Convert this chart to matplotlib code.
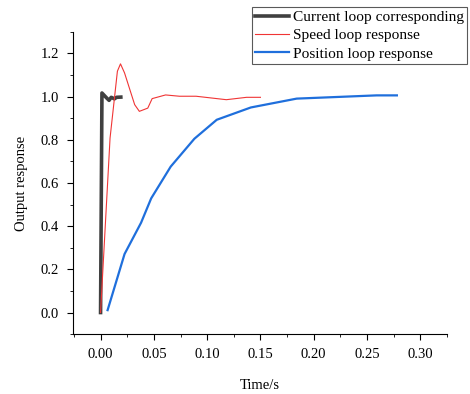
import matplotlib.pyplot as plt
from matplotlib.ticker import MultipleLocator

plt.rcParams['font.family'] = ['Liberation Serif', 'DejaVu Serif']

# current loop
cur_t = [0.0, 0.0013, 0.0057, 0.008, 0.010, 0.013, 0.015, 0.019]
cur_y = [0.0, 1.017, 0.994, 0.983, 0.997, 0.990, 0.997, 0.998]

# speed loop
spd_t = [0.0, 0.0089, 0.0158, 0.0187, 0.0225, 0.0285, 0.032, 0.0364, 0.0443,
         0.0484, 0.061, 0.074, 0.0896, 0.118, 0.137, 0.150]
spd_y = [0.0, 0.808, 1.118, 1.152, 1.11, 1.017, 0.963, 0.932, 0.947,
         0.991, 1.008, 1.002, 1.002, 0.986, 0.997, 0.997]

# position loop
pos_t = [0.0066, 0.0225, 0.038, 0.0475, 0.0658, 0.088, 0.109, 0.141, 0.184, 0.259, 0.278]
pos_y = [0.011, 0.271, 0.416, 0.529, 0.676, 0.805, 0.893, 0.950, 0.991, 1.006, 1.006]

fig = plt.figure(figsize=(4.7, 3.94), dpi=100)
ax = fig.add_axes([0.155, 0.152, 0.796, 0.767])

ax.plot(cur_t, cur_y, color='#404040', lw=2.6, label='Current loop corresponding')
ax.plot(spd_t, spd_y, color='#f03535', lw=0.8, label='Speed loop response')
ax.plot(pos_t, pos_y, color='#1f6fdc', lw=1.6, label='Position loop response')

ax.set_xlim(-0.026, 0.325)
ax.set_ylim(-0.10, 1.30)
ax.xaxis.set_minor_locator(MultipleLocator(0.025))
ax.yaxis.set_minor_locator(MultipleLocator(0.1))
ax.set_xticks([0, 0.05, 0.1, 0.15, 0.2, 0.25, 0.3])
ax.set_xticklabels(['0.00', '0.05', '0.10', '0.15', '0.20', '0.25', '0.30'])
ax.set_yticks([0, 0.2, 0.4, 0.6, 0.8, 1.0, 1.2])
ax.set_yticklabels(['0.0', '0.2', '0.4', '0.6', '0.8', '1.0', '1.2'])
ax.tick_params(which='major', direction='out', length=4, labelsize=10.5, pad=6)
ax.tick_params(which='minor', direction='out', length=2.5)

for s in ['top', 'right']:
    ax.spines[s].set_visible(False)

ax.set_xlabel('Time/s', fontsize=10.5, labelpad=13)
ax.set_ylabel('Output response', fontsize=10.5, labelpad=9)

leg = ax.legend(loc='upper right', bbox_to_anchor=(0.994, 0.982), bbox_transform=fig.transFigure,
                fontsize=11.1, frameon=True, fancybox=False, edgecolor='#303030',
                handlelength=2.2, handletextpad=0.25, borderpad=0.2, labelspacing=0.3,
                borderaxespad=0)
leg.get_frame().set_linewidth(0.8)

fig.savefig('out.png', dpi=100)
